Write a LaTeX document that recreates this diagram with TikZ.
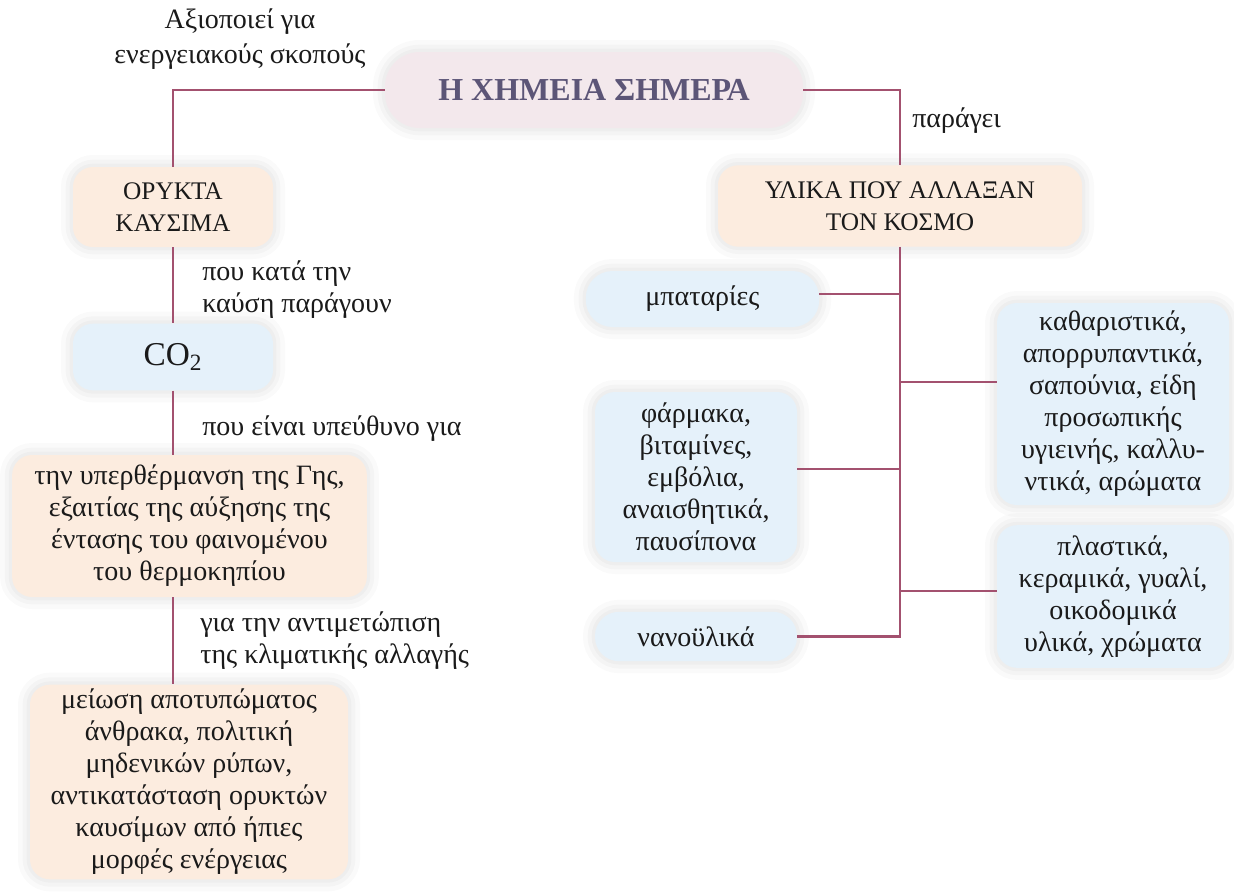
\documentclass[tikz,border=0pt]{standalone}
\usepackage{fontspec}
\setmainfont{Liberation Serif}
\usetikzlibrary{positioning}

\definecolor{titlefill}{HTML}{F3E8EC}
\definecolor{titleink}{HTML}{5C5577}
\definecolor{peachfill}{HTML}{FCECDF}
\definecolor{skyfill}{HTML}{E5F1FA}
\definecolor{linkred}{HTML}{A3516F}
\definecolor{inkblack}{HTML}{1A1A1A}

\begin{document}
\begin{tikzpicture}[
  x=0.75pt, y=-0.75pt,
  font=\fontsize{21}{24}\selectfont,
  halo/.style={preaction={draw=black, draw opacity=0.02, line width=18pt},
               preaction={draw=black, draw opacity=0.025, line width=11pt},
               preaction={draw=black, draw opacity=0.025, line width=5pt}},
  box/.style={halo, rounded corners=15pt, align=center, inner sep=0pt, text=inkblack},
  peach/.style={box, fill=peachfill},
  sky/.style={box, fill=skyfill},
  caps/.style={font=\fontsize{19}{24}\selectfont},
  title/.style={box, fill=titlefill, text=titleink, rounded corners=26pt,
                minimum width=313.5pt, minimum height=57pt,
                font=\fontsize{24}{30}\selectfont\bfseries},
  link/.style={draw=linkred, line width=2.2pt},
  note/.style={anchor=base west, align=left, inner sep=0pt, text=inkblack}
]
\path[use as bounding box, fill=white] (0,0) rectangle (1234,893);

% centre
\node[title] (chem) at (594,90) {Η ΧΗΜΕΙΑ ΣΗΜΕΡΑ};

% left column
\node[peach, caps, minimum width=150pt, minimum height=60pt] (fuel) at (173,207) {ΟΡΥΚΤΑ\\ΚΑΥΣΙΜΑ};
\node[sky, minimum width=150pt, minimum height=50pt, font=\fontsize{25}{30}\selectfont] (co2) at (173,357) {CO\textsubscript{2}};
\node[peach, minimum width=266pt, minimum height=106.5pt] (warm) at (189.5,526)
  {την υπερθέρμανση της Γης,\\εξαιτίας της αύξησης της\\έντασης του φαινομένου\\του θερμοκηπίου};
\node[peach, minimum width=238.5pt, minimum height=146pt] (cut) at (189,782)
  {μείωση αποτυπώματος\\άνθρακα, πολιτική\\μηδενικών ρύπων,\\αντικατάσταση ορυκτών\\καυσίμων από ήπιες\\μορφές ενέργειας};

% right column
\node[peach, caps, minimum width=273pt, minimum height=61pt] (mat) at (900,206) {ΥΛΙΚΑ ΠΟΥ ΑΛΛΑΞΑΝ\\ΤΟΝ ΚΟΣΜΟ};
\node[sky, minimum width=175pt, minimum height=42pt, rounded corners=20pt] (bat) at (702.5,299) {μπαταρίες};
\node[sky, minimum width=174pt, minimum height=151.5pt] (clean) at (1113,404)
  {καθαριστικά,\\απορρυπαντικά,\\σαπούνια, είδη\\προσωπικής\\υγιεινής, καλλυ-\\ντικά, αρώματα};
\node[sky, minimum width=151.5pt, minimum height=127.5pt] (drug) at (696,477)
  {φάρμακα,\\βιταμίνες,\\εμβόλια,\\αναισθητικά,\\παυσίπονα};
\node[sky, minimum width=174pt, minimum height=107pt] (plast) at (1113,596.5)
  {πλαστικά,\\κεραμικά, γυαλί,\\οικοδομικά\\υλικά, χρώματα};
\node[sky, minimum width=151.5pt, minimum height=37pt, rounded corners=18pt] (nano) at (696,636.5) {νανοϋλικά};

% link labels (base = last line)
\node[note, anchor=base, align=center, font=\fontsize{21}{26}\selectfont] (uselbl) at (240,63) {Αξιοποιεί για\\ενεργειακούς σκοπούς};
\node[note] (makelbl) at (912,127) {παράγει};
\node[note] (burnlbl) at (202,312) {που κατά την\\καύση παράγουν};
\node[note] (resplbl) at (202,435) {που είναι υπεύθυνο για};
\node[note] (fightlbl) at (200,663) {για την αντιμετώπιση\\της κλιματικής αλλαγής};

% links
\draw[link] (chem.west) -| (fuel.north);
\draw[link] (chem.east) -| (mat.north);
\draw[link] (fuel) -- (co2);
\draw[link] (co2.south) -- (co2.south |- warm.north);
\draw[link] (co2.south |- warm.south) -- (co2.south |- cut.north);
\draw[link] (mat.south) |- (nano.east);
\foreach \n/\side/\yy in {bat/east/294, clean/west/382, drug/east/469, plast/west/591}
  \draw[link] (\n.\side |- 0,\yy) -- (mat.south |- 0,\yy);
\end{tikzpicture}
\end{document}
